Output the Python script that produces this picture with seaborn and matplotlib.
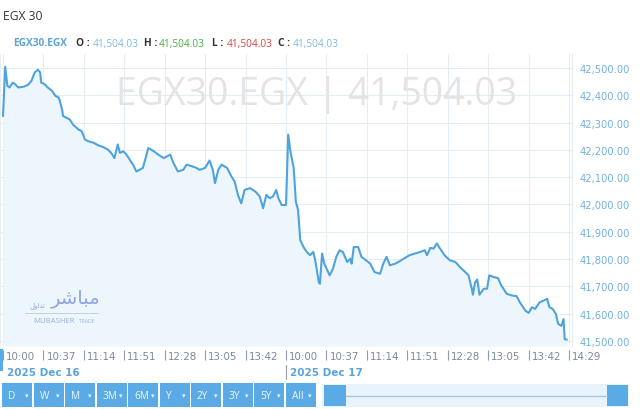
import pandas as pd
import seaborn as sns
import matplotlib
# non-interactive backend, no display in the sandbox
matplotlib.use("Agg")
import matplotlib.pyplot as plt  # noqa
from matplotlib import transforms  # noqa
from matplotlib.patches import Rectangle  # noqa

# trading-time index (minutes on the chart axis, day 2 opens at 259)
minutes = [
    0, 2, 4, 6, 9, 11, 14, 19, 23, 26, 29, 32, 34, 35, 38, 41, 45, 48, 51, 52,
    54, 55, 58, 61, 64, 69, 72, 75, 78, 83, 87, 92, 96, 99, 102, 105, 107, 110,
    113, 116, 119, 122, 125, 128, 133, 138, 142, 147, 150, 153, 156, 160, 165,
    168, 173, 177, 180, 185, 189, 192, 194, 197, 200, 205, 209, 212, 215, 218,
    221, 226, 231, 235, 238, 241, 244, 247, 250, 252, 255, 258,
    259, 261, 263, 266, 268, 270, 272, 275, 278, 281, 284, 286, 289, 290, 292,
    294, 296, 299, 302, 305, 308, 311, 315, 318, 319, 321, 325, 328, 331, 336,
    340, 345, 348, 351, 354, 359, 363, 368, 372, 377, 382, 386, 388, 391, 394,
    397, 400, 404, 409, 414, 418, 423, 426, 429, 430, 432, 434, 436, 440, 443,
    445, 449, 453, 456, 461, 466, 470, 473, 478, 481, 484, 487, 491, 495, 498,
    500, 503, 506, 508, 511, 513, 514, 516,
]
prices = [
    42324, 42505, 42435, 42429, 42447, 42441, 42429, 42432, 42439, 42453, 42484,
    42494, 42484, 42447, 42441, 42429, 42416, 42398, 42392, 42380, 42349, 42324,
    42318, 42312, 42293, 42275, 42269, 42238, 42232, 42226, 42217, 42210, 42201,
    42189, 42170, 42220, 42189, 42195, 42183, 42164, 42146, 42121, 42127, 42134,
    42207, 42195, 42183, 42170, 42176, 42183, 42152, 42121, 42127, 42146, 42140,
    42134, 42127, 42134, 42161, 42127, 42078, 42127, 42146, 42134, 42103, 42084,
    42035, 42004, 42053, 42060, 42047, 42029, 41986, 42035, 42023, 42029, 42053,
    42023, 41998, 41998,
    41998, 42256, 42195, 42134, 42010, 41980, 41869, 41844, 41826, 41814, 41826,
    41789, 41715, 41709, 41820, 41783, 41765, 41740, 41765, 41808, 41832, 41826,
    41789, 41801, 41783, 41844, 41844, 41808, 41799, 41783, 41752, 41746, 41783,
    41808, 41777, 41783, 41792, 41804, 41814, 41820, 41826, 41832, 41814, 41841,
    41838, 41857, 41838, 41814, 41795, 41789, 41771, 41752, 41740, 41691, 41669,
    41715, 41725, 41669, 41691, 41691, 41740, 41734, 41730, 41703, 41672, 41666,
    41664, 41641, 41611, 41602, 41623, 41617, 41641, 41648, 41654, 41623, 41617,
    41598, 41562, 41555, 41580, 41506, 41504.03,
]
time_labels = ["10:00", "10:37", "11:14", "11:51", "12:28", "13:05", "13:42",
               "10:00", "10:37", "11:14", "11:51", "12:28", "13:05", "13:42", "14:29"]
tick_step = 37
day_labels = ["2025 Dec 16", "2025 Dec 17"]
day_starts = [0, 259]
price_ticks = [41500, 41600, 41700, 41800, 41900, 42000, 42100, 42200, 42300, 42400, 42500]
range_buttons = ["D", "W", "M", "3M", "6M", "Y", "2Y", "3Y", "5Y", "All"]
last_value = "41,504.03"

LINE = "#4fa3dc"
FILL = "#eef6fd"
GRID = "#e4edf4"
BTN = "#5aaae6"
TICKBLUE = "#72b1e0"

sns.set_style("white")
plt.rcParams["font.family"] = ["Open Sans", "DejaVu Sans"]

fig = plt.figure(figsize=(6.4, 4.1), dpi=100)
ax = fig.add_axes([0 / 640, 1 - 347 / 410, 572 / 640, 292 / 410])

df = pd.DataFrame({"minute": minutes, "price": prices})
ymin, ymax = 41481, 42551.7
ax.fill_between(df["minute"], df["price"], ymin, color=FILL, zorder=1, linewidth=0)
sns.lineplot(data=df, x="minute", y="price", ax=ax, color=LINE, linewidth=1.5,
             estimator=None, zorder=3)
ax.set_xlim(-2.75, 520.7)
ax.set_ylim(ymin, ymax)
ax.set_xlabel("")
ax.set_ylabel("")

# grid
xt = [i * tick_step for i in range(len(time_labels))]
ax.set_xticks(xt)
ax.set_xticklabels(time_labels)
ax.set_yticks(price_ticks)
ax.set_yticklabels([f"{v:,.2f}" for v in price_ticks])
ax.grid(True, color=GRID, linewidth=0.8, zorder=0)
ax.set_axisbelow(True)

for side in ["top", "bottom"]:
    ax.spines[side].set_visible(False)
for side in ["left", "right"]:
    ax.spines[side].set_color("#e6ecf1")
    ax.spines[side].set_linewidth(0.8)

ax.yaxis.tick_right()
ax.tick_params(axis="y", length=0, pad=5.8, labelsize=7.2, labelcolor=TICKBLUE)
for lab in ax.get_yticklabels():
    lab.set_fontfamily("DejaVu Sans")

ax.spines["bottom"].set_position(("outward", 2.9))
ax.tick_params(axis="x", bottom=True, direction="out", length=7.2, width=0.8,
               color="#8e9cab", pad=-2.9, labelsize=7.4, labelcolor="#7b8a99")
shift = transforms.ScaledTranslation(3 / 100, 0, fig.dpi_scale_trans)
for lab in ax.get_xticklabels():
    lab.set_ha("left")
    lab.set_va("center")
    lab.set_fontfamily("DejaVu Sans")
    lab.set_transform(lab.get_transform() + shift)

blend = transforms.blended_transform_factory(ax.transData, ax.transAxes)
for start, label in zip(day_starts, day_labels):
    ax.annotate(label, xy=(start, -26 / 292), xycoords=blend, xytext=(2.9, 0),
                textcoords="offset points", ha="left", va="center", fontsize=7.5,
                fontweight="bold", color="#5ba3da", family="DejaVu Sans",
                annotation_clip=False)
ax.plot([day_starts[1]] * 2, [-19 / 292, -33 / 292], transform=blend,
        color="#8e9cab", linewidth=0.8, clip_on=False)

# watermark
ax.text(0.553, 0.863, f"EGX30.EGX | {last_value}", transform=ax.transAxes,
        ha="center", va="center", fontsize=27, color="#e4e4e4", zorder=2)

# overlay in pixel coordinates for header, logo and range bar
ui = fig.add_axes([0, 0, 1, 1], zorder=5)
ui.set_xlim(0, 640)
ui.set_ylim(410, 0)
ui.axis("off")
ui.patch.set_alpha(0)

ui.text(3, 16, "EGX 30", ha="left", va="center", fontsize=8.7, color="#333333")
header = [
    (13, "EGX30.EGX", "#5ba4d9", "bold"),
    (76, "O :", "#333333", "bold"),
    (93, last_value, "#7fb8e6", "normal"),
    (144, "H :", "#333333", "bold"),
    (159, last_value, "#45b045", "normal"),
    (212, "L :", "#333333", "bold"),
    (227, last_value, "#d9443f", "normal"),
    (278, "C :", "#333333", "bold"),
    (293, last_value, "#7fb8e6", "normal"),
]
for x, s, c, w in header:
    ui.text(x, 44, s, ha="left", va="center", fontsize=7.3, color=c, fontweight=w)

# logo
ui.text(76, 299, "\ufeae\ufeb7\ufe8e\ufe92\ufee3", ha="center", va="center", fontsize=14,
        color="#8ea6de", family="DejaVu Sans")
ui.text(38, 306, "\ufedd\ufeed\ufe8d\ufeaa\ufe97", ha="center", va="center", fontsize=5,
        color="#8ea6de", family="DejaVu Sans")
ui.plot([25, 98], [314, 314], color="#c0c9d8", linewidth=0.6)
ui.text(33, 322, "MUBASHER", ha="left", va="center", fontsize=5.6, color="#9aaedc")
ui.text(79, 322, "TRADE", ha="left", va="center", fontsize=3.6, color="#9aaedc")

# left edge marker
ui.add_patch(Rectangle((0, 350), 2.5, 22, color=BTN, linewidth=0))

# range buttons
for i, name in enumerate(range_buttons):
    x0 = 2 + i * 31.5
    ui.add_patch(Rectangle((x0, 384), 30, 24, color=BTN, linewidth=0))
    ui.text(x0 + 6, 397, name, ha="left", va="center", fontsize=7.3, color="#eef7fe")
    ui.text(x0 + 24.5, 396, "\u25be", ha="center", va="center", fontsize=5,
            color="#eef7fe", family="DejaVu Sans")

# navigator slider
ui.add_patch(Rectangle((322, 385), 307, 23, color="#e9f3fb", linewidth=0))
ui.plot([346, 607], [397, 397], color="#9fcbea", linewidth=1)
ui.add_patch(Rectangle((324, 386), 22, 21, color=BTN, linewidth=0))
ui.add_patch(Rectangle((607, 386), 21, 21, color=BTN, linewidth=0))

fig.savefig("out.png", dpi=100, facecolor="white")
